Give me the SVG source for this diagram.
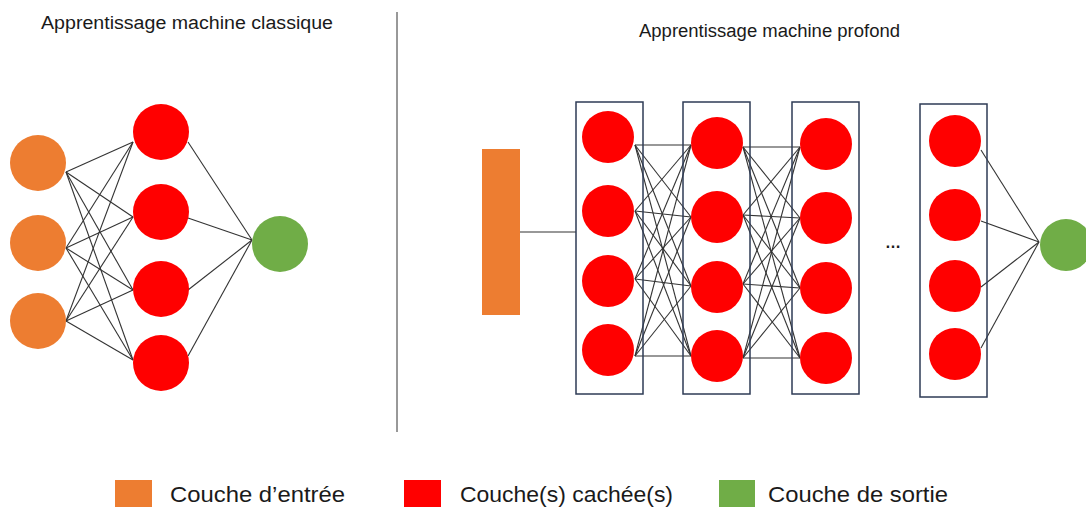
<svg xmlns="http://www.w3.org/2000/svg" width="1086" height="507" viewBox="0 0 1086 507">
<style>
.t{font-family:"Liberation Sans",Arial,sans-serif;fill:#1a1a1a}
.in{fill:#ED7D31}
.hid{fill:#FF0000}
.out{fill:#70AD47}
.box{fill:none;stroke:#2E3B55;stroke-width:1.5}
.c line{stroke:#333;stroke-width:1.1}
</style>
<rect width="1086" height="507" fill="#fff"/>
<text class="t" x="41" y="29" font-size="18" textLength="292" lengthAdjust="spacingAndGlyphs">Apprentissage machine classique</text>
<text class="t" x="639" y="37" font-size="18" textLength="261" lengthAdjust="spacingAndGlyphs">Apprentissage machine profond</text>
<line x1="397" y1="12" x2="397" y2="432" stroke="#333" stroke-width="1"/>

<g id="connectors" class="c">
<line x1="66" y1="172" x2="133" y2="142"/><line x1="66" y1="172" x2="133" y2="217"/><line x1="66" y1="172" x2="133" y2="290"/><line x1="66" y1="172" x2="133" y2="360"/>
<line x1="66" y1="248" x2="133" y2="142"/><line x1="66" y1="248" x2="133" y2="217"/><line x1="66" y1="248" x2="133" y2="290"/><line x1="66" y1="248" x2="133" y2="360"/>
<line x1="66" y1="321" x2="133" y2="142"/><line x1="66" y1="321" x2="133" y2="217"/><line x1="66" y1="321" x2="133" y2="290"/><line x1="66" y1="321" x2="133" y2="360"/>
<line x1="188" y1="142" x2="252" y2="240"/><line x1="188" y1="218" x2="252" y2="240"/><line x1="188" y1="290" x2="252" y2="240"/><line x1="188" y1="356" x2="252" y2="240"/>
<line x1="520" y1="232" x2="576" y2="232"/>
<line x1="635" y1="145" x2="691" y2="145"/><line x1="635" y1="145" x2="691" y2="217"/><line x1="635" y1="145" x2="691" y2="286"/><line x1="635" y1="145" x2="691" y2="356"/>
<line x1="635" y1="211" x2="691" y2="145"/><line x1="635" y1="211" x2="691" y2="217"/><line x1="635" y1="211" x2="691" y2="286"/><line x1="635" y1="211" x2="691" y2="356"/>
<line x1="635" y1="279" x2="691" y2="145"/><line x1="635" y1="279" x2="691" y2="217"/><line x1="635" y1="279" x2="691" y2="286"/><line x1="635" y1="279" x2="691" y2="356"/>
<line x1="635" y1="356" x2="691" y2="145"/><line x1="635" y1="356" x2="691" y2="217"/><line x1="635" y1="356" x2="691" y2="286"/><line x1="635" y1="356" x2="691" y2="356"/>
<line x1="743" y1="147" x2="800" y2="147"/><line x1="743" y1="147" x2="800" y2="218"/><line x1="743" y1="147" x2="800" y2="288"/><line x1="743" y1="147" x2="800" y2="358"/>
<line x1="743" y1="215" x2="800" y2="147"/><line x1="743" y1="215" x2="800" y2="218"/><line x1="743" y1="215" x2="800" y2="288"/><line x1="743" y1="215" x2="800" y2="358"/>
<line x1="743" y1="284" x2="800" y2="147"/><line x1="743" y1="284" x2="800" y2="218"/><line x1="743" y1="284" x2="800" y2="288"/><line x1="743" y1="284" x2="800" y2="358"/>
<line x1="743" y1="358" x2="800" y2="147"/><line x1="743" y1="358" x2="800" y2="218"/><line x1="743" y1="358" x2="800" y2="288"/><line x1="743" y1="358" x2="800" y2="358"/>
<line x1="981" y1="150" x2="1039" y2="242"/><line x1="981" y1="221" x2="1039" y2="242"/><line x1="981" y1="287" x2="1039" y2="242"/><line x1="981" y1="348" x2="1039" y2="242"/>
</g>

<g id="classic-input">
<circle class="in" cx="38" cy="163" r="28"/>
<circle class="in" cx="38" cy="243" r="28"/>
<circle class="in" cx="38" cy="321" r="28"/>
</g>
<g id="classic-hidden">
<circle class="hid" cx="161" cy="132" r="28"/>
<circle class="hid" cx="161" cy="212" r="28"/>
<circle class="hid" cx="161" cy="289" r="28"/>
<circle class="hid" cx="161" cy="363" r="28"/>
</g>
<g id="classic-output">
<circle class="out" cx="280" cy="244" r="28"/>
</g>

<g id="deep-input">
<rect class="in" x="482" y="149" width="38" height="166"/>
</g>
<g id="deep-hidden-1">
<rect class="box" x="576" y="102" width="67" height="292"/>
<circle class="hid" cx="608" cy="137" r="26"/>
<circle class="hid" cx="608" cy="211" r="26"/>
<circle class="hid" cx="608" cy="281" r="26"/>
<circle class="hid" cx="608" cy="350" r="26"/>
</g>
<g id="deep-hidden-2">
<rect class="box" x="683" y="102" width="67" height="292"/>
<circle class="hid" cx="717" cy="143" r="26"/>
<circle class="hid" cx="717" cy="217" r="26"/>
<circle class="hid" cx="717" cy="287" r="26"/>
<circle class="hid" cx="717" cy="356" r="26"/>
</g>
<g id="deep-hidden-3">
<rect class="box" x="792" y="102" width="67" height="292"/>
<circle class="hid" cx="826" cy="144" r="26"/>
<circle class="hid" cx="826" cy="218" r="26"/>
<circle class="hid" cx="826" cy="288" r="26"/>
<circle class="hid" cx="826" cy="358" r="26"/>
</g>
<text class="t" x="893" y="248" font-size="16" font-weight="bold" text-anchor="middle">…</text>
<g id="deep-hidden-n">
<rect class="box" x="920" y="104" width="67" height="293"/>
<circle class="hid" cx="955" cy="141" r="26"/>
<circle class="hid" cx="955" cy="215" r="26"/>
<circle class="hid" cx="955" cy="286" r="26"/>
<circle class="hid" cx="955" cy="354" r="26"/>
</g>
<g id="deep-output">
<circle class="out" cx="1066" cy="245" r="26"/>
</g>

<g id="legend">
<rect class="in" x="115" y="480" width="37" height="27"/>
<text class="t" x="170" y="502" font-size="22" textLength="175" lengthAdjust="spacingAndGlyphs">Couche d’entrée</text>
<rect class="hid" x="404" y="480" width="37" height="27"/>
<text class="t" x="460" y="502" font-size="22" textLength="213" lengthAdjust="spacingAndGlyphs">Couche(s) cachée(s)</text>
<rect class="out" x="719" y="480" width="36" height="27"/>
<text class="t" x="768" y="502" font-size="22" textLength="180" lengthAdjust="spacingAndGlyphs">Couche de sortie</text>
</g>
</svg>
